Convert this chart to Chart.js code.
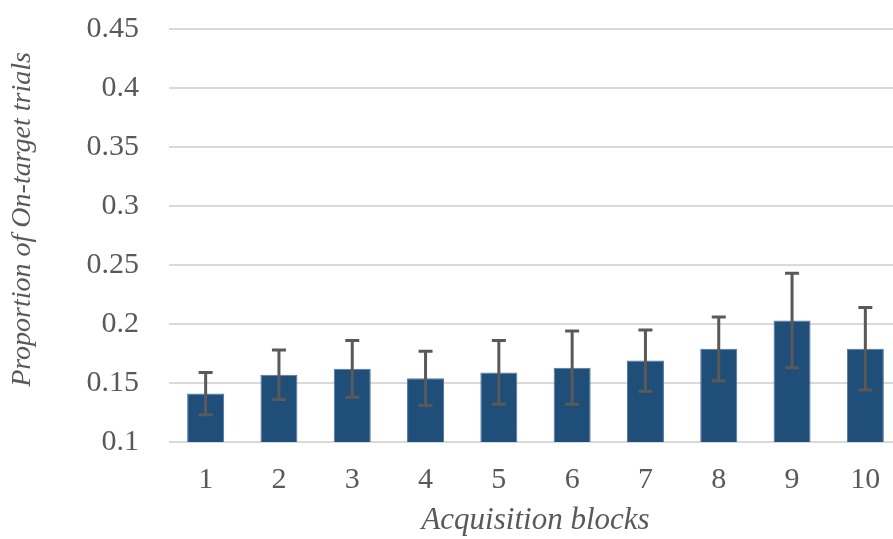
<!DOCTYPE html>
<html>
<head>
<meta charset="utf-8">
<script src="https://cdn.jsdelivr.net/npm/chart.js@4.4.1/dist/chart.umd.min.js"></script>
<style>
  html, body { margin: 0; padding: 0; background: #fff; overflow: hidden; }
  #wrap { position: relative; width: 902px; height: 539px; }
</style>
</head>
<body>
<div id="wrap"><canvas id="chart"></canvas></div>
<script>
const blocks = ["1", "2", "3", "4", "5", "6", "7", "8", "9", "10"];
const onTarget = [0.141, 0.157, 0.162, 0.154, 0.159, 0.163, 0.169, 0.179, 0.203, 0.179];
const stdErr = [0.018, 0.021, 0.024, 0.023, 0.027, 0.031, 0.026, 0.027, 0.040, 0.035];

const serif = "'Liberation Serif', 'Times New Roman', 'DejaVu Serif', serif";
const grey = "#595959";
const yTitle = "Proportion of On-target trials";

// whiskers with flat caps on top of each bar
const errorBars = {
  id: "errorBars",
  afterDatasetsDraw(chart) {
    const { ctx } = chart;
    const y = chart.scales.y;
    const meta = chart.getDatasetMeta(0);
    ctx.save();
    ctx.strokeStyle = grey;
    ctx.lineWidth = 3;
    meta.data.forEach((bar, i) => {
      const hi = y.getPixelForValue(onTarget[i] + stdErr[i]);
      const lo = y.getPixelForValue(onTarget[i] - stdErr[i]);
      ctx.beginPath();
      ctx.moveTo(bar.x, hi);
      ctx.lineTo(bar.x, lo);
      ctx.moveTo(bar.x - 7, hi);
      ctx.lineTo(bar.x + 7, hi);
      ctx.moveTo(bar.x - 7, lo);
      ctx.lineTo(bar.x + 7, lo);
      ctx.stroke();
    });
    ctx.restore();
  },
};

// vertical axis title, sitting a bit above the middle of the plot
const sideTitle = {
  id: "sideTitle",
  afterDraw(chart) {
    const { ctx, chartArea } = chart;
    ctx.save();
    ctx.translate(23, (chartArea.top + chartArea.bottom) / 2 - 16);
    ctx.rotate(-Math.PI / 2);
    ctx.font = `italic 28px ${serif}`;
    ctx.fillStyle = grey;
    ctx.textAlign = "center";
    ctx.textBaseline = "middle";
    ctx.fillText(yTitle, 0, 0);
    ctx.restore();
  },
};

const initChart = (el) => {
  const config = {
    type: "bar",
    data: {
      labels: [...blocks],
      datasets: [
        {
          data: [...onTarget],
          backgroundColor: "#1f4e79",
          borderColor: "#4f75a0",
          borderWidth: 1,
          barPercentage: 1,
          categoryPercentage: 0.505,
        },
      ],
    },
    options: {
      responsive: true,
      maintainAspectRatio: false,
      animation: false,
      layout: { padding: 0 },
      plugins: {
        legend: false,
        tooltip: { enabled: false },
      },
      scales: {
        y: {
          min: 0.1,
          max: 0.45,
          afterFit: (scale) => {
            scale.width = 169;
            scale.paddingTop = 29;
            scale.paddingBottom = 0;
          },
          ticks: {
            stepSize: 0.05,
            padding: 30,
            color: grey,
            font: { family: serif, size: 30 },
            callback: (v) => String(Math.round(v * 100) / 100),
          },
          grid: { color: "#d9d9d9", lineWidth: 2, drawTicks: false },
          border: { display: false },
        },
        x: {
          afterFit: (scale) => { scale.height = 97; },
          ticks: {
            padding: 12,
            color: grey,
            font: { family: serif, size: 30 },
          },
          grid: { display: false },
          border: { display: false },
          title: {
            display: true,
            text: "Acquisition blocks",
            color: grey,
            padding: { top: 0, bottom: 0 },
            font: { family: serif, size: 31, style: "italic" },
          },
        },
      },
    },
    plugins: [errorBars, sideTitle],
  };
  return new Chart(el, config);
};

// wait for the serif face so the canvas text doesn't fall back to sans
Promise.all([
  document.fonts.load("30px 'Liberation Serif'"),
  document.fonts.load("italic 30px 'Liberation Serif'"),
]).finally(() => initChart(document.getElementById("chart")));
</script>
</body>
</html>
